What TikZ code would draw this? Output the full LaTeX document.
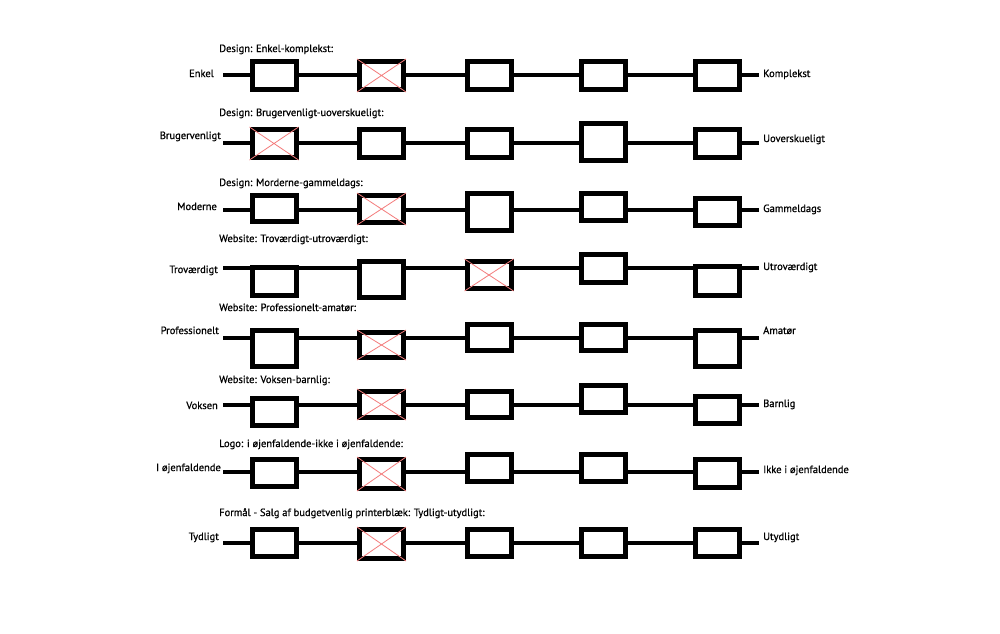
\documentclass[tikz,border=0pt]{standalone}
\usepackage{fontspec}
\setmainfont{PT Sans}
\newfontfamily\polefont{PT Sans}[FakeBold=0.9]
\usetikzlibrary{calc}
\definecolor{crossRed}{HTML}{F47C7C}

\begin{document}
\begin{tikzpicture}[
    x=1pt, y=-1pt,
    box/.style={rectangle, draw=black, line width=5pt, fill=white,
                minimum width=44pt, inner sep=0pt},
    wire/.style={line width=4pt, black},
    cross/.style={crossRed, line width=0.8pt},
    title/.style={anchor=base west, inner sep=0pt, font=\polefont\fontsize{10.5}{12}\selectfont},
    lpole/.style={anchor=base east, inner sep=0pt, font=\polefont\fontsize{10.5}{12}\selectfont},
    rpole/.style={anchor=base west, inner sep=0pt, font=\polefont\fontsize{10.5}{12}\selectfont},
]
    \useasboundingbox (0,0) rectangle (1000,633);
    \def\colx{{274,381.5,489,603.5,717.5}}

    % Titles
    \node[title] (t1) at (219,52) {Design: Enkel-komplekst:};
    \node[title] (t2) at (219,116) {Design: Brugervenligt-uoverskueligt:};
    \node[title] (t3) at (219,186) {Design: Morderne-gammeldags:};
    \node[title] (t4) at (219,242) {Website: Troværdigt-utroværdigt:};
    \node[title] (t5) at (219,311) {Website: Professionelt-amatør:};
    \node[title] (t6) at (219,383) {Website: Voksen-barnlig:};
    \node[title] (t7) at (219,447) {Logo: i øjenfaldende-ikke i øjenfaldende:};
    \node[title] (t8) at (219,516) {Formål - Salg af budgetvenlig printerblæk: Tydligt-utydligt:};

    % Poles, left
    \node[lpole] (pl1) at (214,77) {Enkel};
    \node[lpole] (pl2) at (221,139) {Brugervenligt};
    \node[lpole] (pl3) at (217,210) {Moderne};
    \node[lpole] (pl4) at (218,273) {Troværdigt};
    \node[lpole] (pl5) at (219,334) {Professionelt};
    \node[lpole] (pl6) at (218,409) {Voksen};
    \node[lpole] (pl7) at (221,471) {I øjenfaldende};
    \node[lpole] (pl8) at (219,540) {Tydligt};

    % Poles, right
    \node[rpole] (pr1) at (763,77) {Komplekst};
    \node[rpole] (pr2) at (763,142) {Uoverskueligt};
    \node[rpole] (pr3) at (763,212) {Gammeldags};
    \node[rpole] (pr4) at (763,270) {Utroværdigt};
    \node[rpole] (pr5) at (763,334) {Amatør};
    \node[rpole] (pr6) at (763,407) {Barnlig};
    \node[rpole] (pr7) at (763,473) {Ikke i øjenfaldende};
    \node[rpole] (pr8) at (763,540) {Utydligt};

    % Scales: row / line y / crossed box / box top,bottom offsets
    \foreach \r/\ly/\xc/\bx in {
        1/75/2/{-16/17,-16/17,-16/17,-16/17,-16/17},
        2/143/1/{-16/17,-16/17,-16/17,-22/20,-16/17},
        3/210/2/{-17/14,-17/15,-19/23,-19/13,-14/18},
        4/268/3/{-3/30,-9/32,-9/23,-16/17,-4/30},
        5/338/2/{-10/31,-8/22,-16/15,-16/15,-10/31},
        6/405/2/{-9/23,-16/15,-16/15,-22/10,-11/21},
        7/472/2/{-15/17,-15/19,-20/12,-20/12,-15/18},
        8/543/2/{-16/16,-16/18,-16/16,-16/16,-16/16}}{
        \coordinate (l\r) at (223,\ly);
        \coordinate (r\r) at (759,\ly);
        \foreach \ya/\yb [count=\c] in \bx {
            \pgfmathsetmacro\bxpos{\colx[\c-1]}
            \node[box, minimum height={\yb-(\ya)-5}] (b\r-\c) at (\bxpos,{\ly+(\ya+\yb)/2}) {};
        }
        \draw[wire] (l\r) -- (b\r-1.west |- l\r);
        \foreach \c [evaluate=\c as \n using int(\c+1)] in {1,...,4}
            \draw[wire] (b\r-\c.east |- l\r) -- (b\r-\n.west |- l\r);
        \draw[wire] (b\r-5.east |- l\r) -- (r\r);
        \draw[cross] (b\r-\xc.north west) -- (b\r-\xc.south east)
                     (b\r-\xc.north east) -- (b\r-\xc.south west);
    }
\end{tikzpicture}
\end{document}
